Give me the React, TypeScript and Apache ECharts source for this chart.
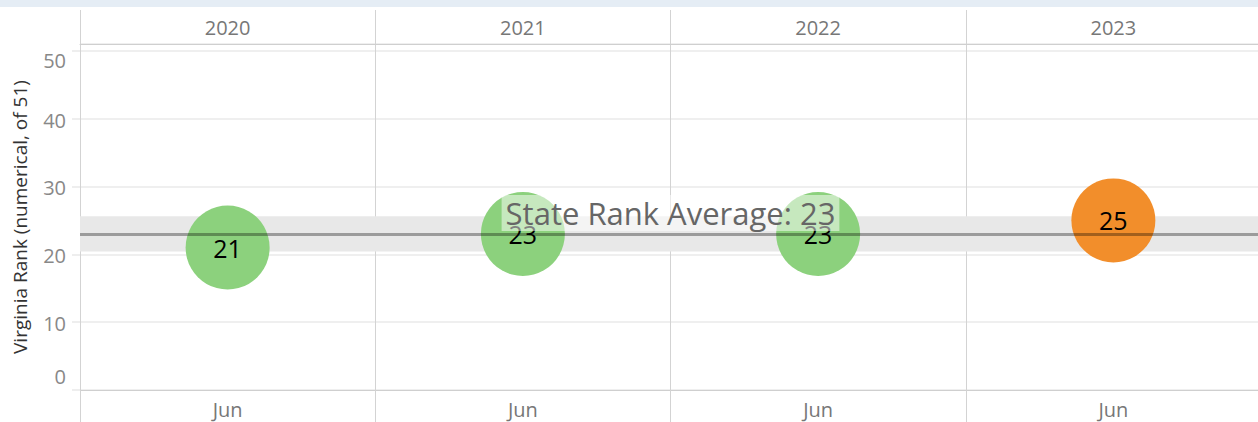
import React, { useEffect, useRef } from "react";
import * as echarts from "echarts";

const years = ["2020", "2021", "2022", "2023"];
const months = ["Jun", "Jun", "Jun", "Jun"];
const ranks = [21, 23, 23, 25];
const averageRank = 23;
const bandLow = 20.4;
const bandHigh = 25.6;
const yTickValues = [0, 10, 20, 30, 40, 50];
const yMin = 0;
const yMax = 51;
const yInterval = 10;

const GREEN = "#8cd17d";
const ORANGE = "#f28e2b";
const FONT = "Open Sans";

export default function App() {
  const ref = useRef<HTMLDivElement>(null);
  useEffect(() => {
    if (!ref.current) return;
    const chart = echarts.init(ref.current, undefined, { renderer: "svg" });
    const option: any = {
      animation: false,
      textStyle: { fontFamily: FONT },
      graphic: [
        {
          type: "rect",
          shape: { x: 0, y: 0, width: 1258, height: 7 },
          style: { fill: "#e5edf5" },
          silent: true,
        },
      ],
      grid: {
        left: 80,
        right: -3,
        top: 44,
        bottom: 32,
        containLabel: false,
        outerBoundsMode: "none",
      },
      xAxis: [
        {
          type: "category",
          data: years,
          position: "bottom",
          boundaryGap: true,
          axisLine: { show: true, lineStyle: { color: "#cfcfcf", width: 1 } },
          axisTick: { show: true, length: 32, interval: 0, lineStyle: { color: "#d3d3d3" } },
          axisLabel: {
            interval: 0,
            margin: 9,
            color: "#777",
            fontSize: 20,
            formatter: (_v: string, i: number) => months[i],
          },
          splitLine: { show: true, interval: 0, lineStyle: { color: "#d3d3d3", width: 1 } },
        },
        {
          type: "category",
          data: years,
          position: "top",
          boundaryGap: true,
          axisLine: { show: true, lineStyle: { color: "#cfcfcf", width: 1 } },
          axisTick: { show: true, length: 34, interval: 0, lineStyle: { color: "#d3d3d3" } },
          axisLabel: { interval: 0, margin: 7, color: "#777", fontSize: 20 },
          splitLine: { show: false },
        },
      ],
      yAxis: {
        type: "value",
        min: yMin,
        max: yMax,
        interval: yInterval,
        name: "Virginia Rank (numerical, of 51)",
        nameLocation: "middle",
        nameGap: 51,
        nameRotate: 90,
        nameTextStyle: { color: "#333", fontSize: 19 },
        axisLine: { show: true, lineStyle: { color: "#d3d3d3" } },
        axisTick: { show: true, length: 8, lineStyle: { color: "#eeeeee", width: 2 } },
        splitLine: { show: true, lineStyle: { color: "#efefef", width: 2 } },
        axisLabel: {
          showMaxLabel: false,
          margin: 14,
          color: "#888",
          fontSize: 20,
          formatter: (v: number) => {
            if (!yTickValues.includes(v)) return "";
            if (v === yTickValues[yTickValues.length - 1]) return `{top|${v}}`;
            if (v === yTickValues[0]) return `{bot|${v}}`;
            return `{mid|${v}}`;
          },
          rich: {
            top: { padding: [20, 0, 0, 0], color: "#888", fontSize: 20, fontFamily: FONT },
            bot: { padding: [0, 0, 28, 0], color: "#888", fontSize: 20, fontFamily: FONT },
            mid: { padding: [3, 0, 0, 0], color: "#888", fontSize: 20, fontFamily: FONT },
          },
        },
      },
      series: [
        {
          type: "scatter",
          xAxisIndex: 0,
          yAxisIndex: 0,
          symbol: "circle",
          symbolSize: 84,
          data: ranks.map((v, i) => [years[i], v]),
          itemStyle: {
            opacity: 1,
            color: (p: any) => (p.value[1] > averageRank ? ORANGE : GREEN),
          },
          label: {
            show: true,
            position: "inside",
            color: "#000",
            fontSize: 25,
            formatter: (p: any) => String(p.value[1]),
          },
          emphasis: { disabled: true },
          markArea: {
            silent: true,
            itemStyle: { color: "#e8e8e8", opacity: 1 },
            data: [[{ yAxis: bandLow }, { yAxis: bandHigh }]],
          },
          markLine: {
            silent: true,
            symbol: "none",
            lineStyle: { color: "rgba(0,0,0,0.33)", width: 3, type: "solid" },
            label: {
              show: true,
              position: "middle",
              distance: 3,
              formatter: () => `State Rank Average: ${averageRank}`,
              color: "#666",
              fontSize: 31,
              fontFamily: FONT,
              backgroundColor: "rgba(255,255,255,0.5)",
              padding: [0, 4, 0, 4],
              lineHeight: 36,
            },
            emphasis: { disabled: true },
            data: [{ yAxis: averageRank }],
          },
        },
      ],
    };
    chart.setOption(option);
    return () => chart.dispose();
  }, []);
  return (
    <div
      ref={ref}
      style={{ position: "fixed", left: 0, top: 0, width: 1258, height: 422, background: "#fff" }}
    />
  );
}
